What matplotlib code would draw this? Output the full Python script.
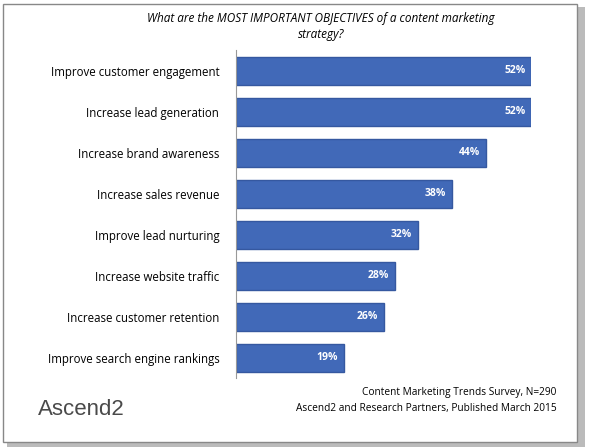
import matplotlib
matplotlib.use("Agg")
import matplotlib.pyplot as plt
from matplotlib.patches import Rectangle

categories = ["Improve customer engagement", "Increase lead generation", "Increase brand awareness",
              "Increase sales revenue", "Improve lead nurturing", "Increase website traffic",
              "Increase customer retention", "Improve search engine rankings"]
values = [52, 52, 44, 38, 32, 28, 26, 19]

plt.rcParams['font.family'] = ['Open Sans', 'DejaVu Sans']
fig = plt.figure(figsize=(5.89, 4.47), dpi=100)
fig.patches.append(Rectangle((0.012, 0.0), 0.982, 0.985, transform=fig.transFigure, fc="#bbbbbb", ec="none", zorder=-2))
fig.patches.append(Rectangle((0.005, 0.012), 0.975, 0.98, transform=fig.transFigure, fc="white", ec="#888888", lw=1, zorder=-1))

ax = fig.add_axes([0.4007, 0.154, 0.501, 0.734])
y = list(range(len(categories)))
ax.barh(y, values, height=0.68, color="#4169B8", edgecolor="#3558a0")
ax.set_ylim(len(categories) - 0.5, -0.5)
ax.set_xlim(0, 52)
ax.set_yticks(y)
ax.set_yticklabels(categories, fontsize=8.3)
ax.tick_params(axis="y", length=0, pad=12)
ax.set_xticks([])
for s in ["top", "right", "bottom"]:
    ax.spines[s].set_visible(False)
ax.spines["left"].set_color("#999999")
for yi, v in zip(y, values):
    ax.text(v - 1, yi, f"{v}%", color="white", fontsize=7.5, fontweight="bold", ha="right", va="center")

fig.text(0.545, 0.94, "What are the MOST IMPORTANT OBJECTIVES of a content marketing\nstrategy?",
         ha="center", va="center", fontsize=8.5, style="italic", linespacing=1.3)
fig.text(0.945, 0.122, "Content Marketing Trends Survey, N=290", ha="right", va="center", fontsize=7.3)
fig.text(0.945, 0.087, "Ascend2 and Research Partners, Published March 2015", ha="right", va="center", fontsize=7.3)
fig.text(0.065, 0.083, "Ascend2", ha="left", va="center", fontsize=16, color="#4a4a4a", family="Liberation Sans")

fig.savefig("out.png", dpi=100)
